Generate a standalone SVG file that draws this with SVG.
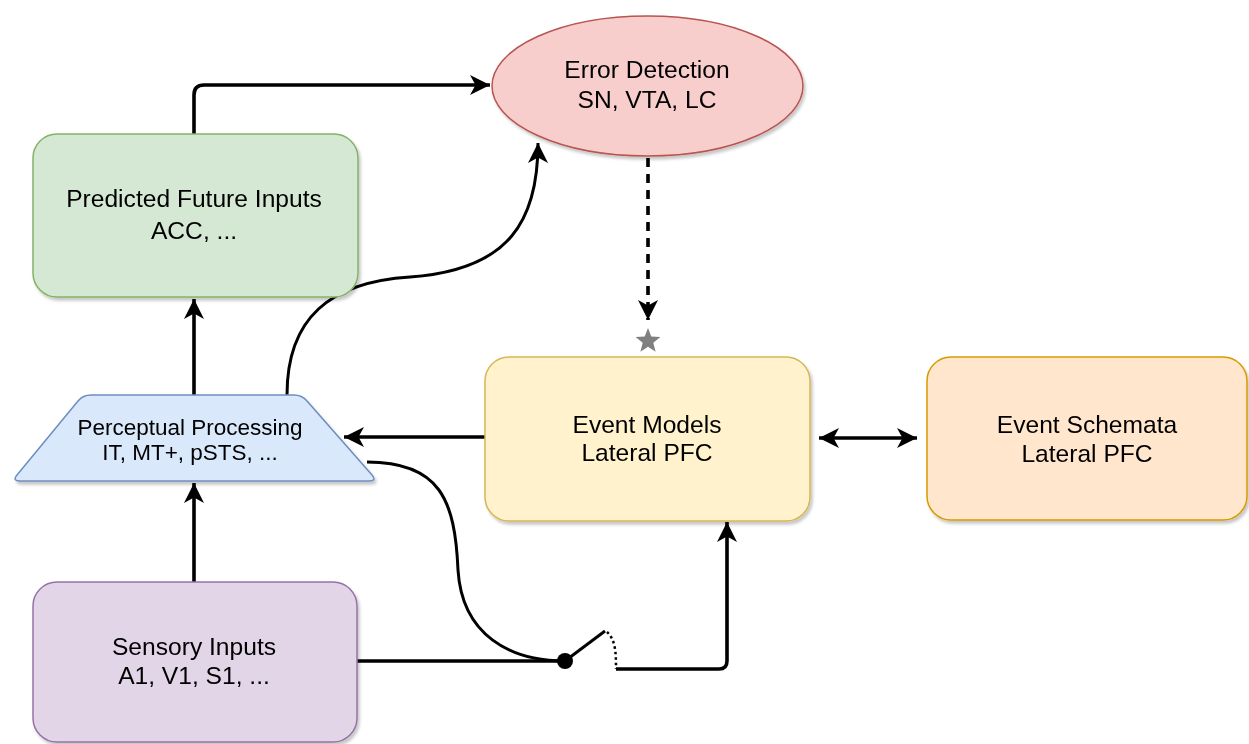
<svg xmlns="http://www.w3.org/2000/svg" width="1249" height="744" viewBox="0 0 1249 744">
<defs>
<style>
text{font-family:"Liberation Sans",Arial,sans-serif;fill:#000;text-anchor:middle}
.t24{font-size:24.6px}
.t22{font-size:22.5px}
.edge{fill:none;stroke:#000;stroke-width:3.6}
.curve{fill:none;stroke:#000;stroke-width:3}
.node{filter:url(#sh)}
</style>
<filter id="sh" x="-10%" y="-10%" width="130%" height="130%">
<feDropShadow dx="2" dy="3" stdDeviation="1.5" flood-color="#000" flood-opacity="0.22"/>
</filter>
<marker id="arr" markerUnits="userSpaceOnUse" markerWidth="24" markerHeight="24" viewBox="-21 -12 24 24" refX="0" refY="0" orient="auto-start-reverse">
<path d="M-20,-10 L0,0 L-20,10 L-14.5,0 Z" fill="#000"/>
</marker>
</defs>
<rect width="1249" height="744" fill="#fff"/>

<g id="connectors">
<path class="edge" d="M194,134 L194,95 Q194,85 204,85 L490,85" marker-end="url(#arr)"/>
<path class="edge" d="M194,395 L194,299" marker-end="url(#arr)"/>
<path class="edge" d="M194,582 L194,483" marker-end="url(#arr)"/>
<path class="edge" d="M486,437 L344,437" marker-end="url(#arr)"/>
<path class="edge" d="M819,438 L917,438" marker-start="url(#arr)" marker-end="url(#arr)"/>
<path class="edge" d="M648,158 L648,320" stroke-dasharray="9,7" marker-end="url(#arr)"/>
<path class="curve" d="M287,395 C287,318 330,282 410,277 C510,270 538,220 538,143" marker-end="url(#arr)"/>
<path class="curve" d="M367,462 C440,462 455,500 458,570 C462,635 510,661 565,661"/>
<path class="edge" d="M357,661 L565,661"/>
<path class="curve" d="M565,661 L605,631"/>
<path fill="none" stroke="#000" stroke-width="2.5" stroke-dasharray="2.5,3" d="M607,632 C616,640 616,655 616,669"/>
<path class="edge" d="M616,669 L719,669 Q727,669 727,661 L727,522" marker-end="url(#arr)"/>
<circle cx="565" cy="661" r="8" fill="#000"/>
<path d="M648,328 L651.3,336.6 L660.4,337.1 L653.3,342.8 L655.6,351.7 L648,346.7 L640.4,351.7 L642.7,342.8 L635.6,337.1 L644.7,336.6 Z" fill="#808080"/>
</g>

<g id="node-error-detection" class="node">
<ellipse cx="647.5" cy="86" rx="155.5" ry="70" fill="#f8cecc" stroke="#b85450" stroke-width="1.5"/>
<text class="t24" x="647" y="78">Error Detection</text>
<text class="t24" x="647" y="108">SN, VTA, LC</text>
</g>

<g id="node-predicted" class="node">
<rect x="33" y="134" width="325" height="163" rx="24" fill="#d5e8d4" stroke="#82b366" stroke-width="1.5"/>
<text class="t24" x="194" y="207">Predicted Future Inputs</text>
<text class="t24" x="194" y="239">ACC, ...</text>
</g>

<g id="node-perceptual" class="node">
<path d="M91,395 L294,395 Q302,395 307,401 L372,475 Q377,481 369,481 L20,481 Q12,481 17,475 L78,401 Q83,395 91,395 Z" fill="#dae8fc" stroke="#6c8ebf" stroke-width="1.5"/>
<text class="t22" x="190" y="435">Perceptual Processing</text>
<text class="t22" x="190" y="460">IT, MT+, pSTS, ...</text>
</g>

<g id="node-event-models" class="node">
<rect x="485" y="357" width="325" height="164" rx="24" fill="#fff2cc" stroke="#d6b656" stroke-width="1.5"/>
<text class="t24" x="647" y="433">Event Models</text>
<text class="t24" x="647" y="461">Lateral PFC</text>
</g>

<g id="node-event-schemata" class="node">
<rect x="927" y="357" width="320" height="163" rx="24" fill="#ffe6cc" stroke="#d79b00" stroke-width="1.5"/>
<text class="t24" x="1087" y="433">Event Schemata</text>
<text class="t24" x="1087" y="462">Lateral PFC</text>
</g>

<g id="node-sensory" class="node">
<rect x="33" y="582" width="324" height="160" rx="24" fill="#e1d5e7" stroke="#9673a6" stroke-width="1.5"/>
<text class="t24" x="194" y="655">Sensory Inputs</text>
<text class="t24" x="194" y="684">A1, V1, S1, ...</text>
</g>
</svg>
